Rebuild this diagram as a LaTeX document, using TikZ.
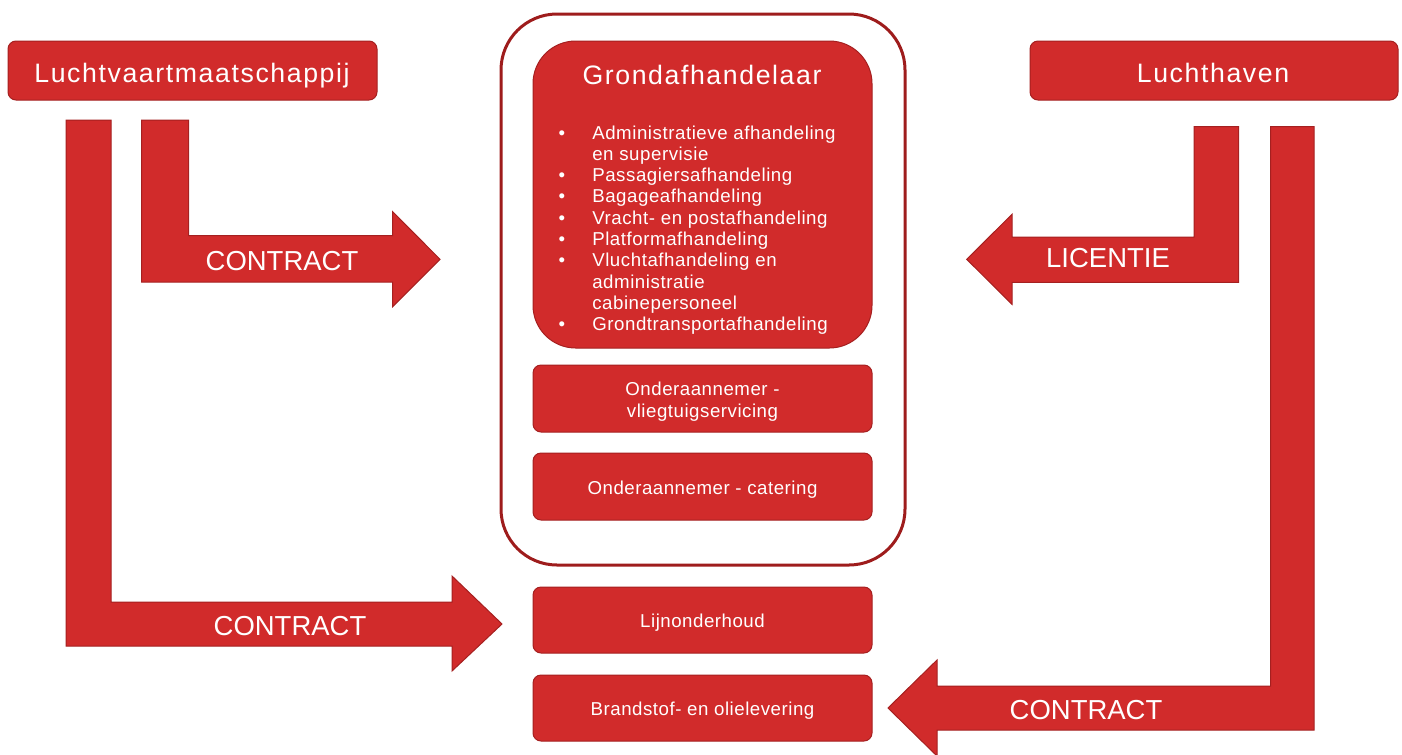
\documentclass[tikz,border=0pt]{standalone}
\usepackage{fontspec}
\setmainfont{Liberation Sans}
\newfontfamily\ttlfont[LetterSpace=6]{Liberation Sans}
\newfontfamily\lstfont[LetterSpace=3]{Liberation Sans}
\newfontfamily\subfont[LetterSpace=2.8]{Liberation Sans}
\definecolor{boxred}{RGB}{209,43,43}
\definecolor{edgered}{RGB}{165,32,32}
\definecolor{outerred}{RGB}{158,28,28}
\begin{document}
\begin{tikzpicture}[x=0.75pt,y=-0.75pt,
  redbox/.style={draw=edgered, line width=0.75pt, fill=boxred, text=white, rounded corners=6pt, inner sep=0pt, align=center},
  blockarrow/.style={draw=edgered, line width=0.75pt, fill=boxred, line join=miter},
  arrowlabel/.style={text=white, font=\fontsize{20.6}{24}\selectfont, inner sep=0pt},
  titletext/.style={text=white, font=\ttlfont\fontsize{20}{24}\selectfont, inner sep=0pt, anchor=base},
  listtext/.style={text=white, font=\lstfont\fontsize{14}{16}\selectfont, inner sep=0pt},
  subtext/.style={text=white, inner sep=0pt, align=center, font=\subfont\fontsize{14}{16.7}\selectfont}]
\useasboundingbox (0,0) rectangle (1402,754);
\clip (0,0) rectangle (1402,754);

% block arrows
\draw[blockarrow] (141.7,120) -- (188.7,120) -- (188.7,235.7) -- (392.7,235.7) -- (392.7,211.7)
  -- (440,259.3) -- (392.7,306.7) -- (392.7,282) -- (141.7,282) -- cycle;
\draw[blockarrow] (66,120) -- (111,120) -- (111,602) -- (452,602) -- (452,576)
  -- (502,624) -- (452,671) -- (452,646) -- (66,646) -- cycle;
\draw[blockarrow] (1238.7,126.7) -- (1194,126.7) -- (1194,237) -- (1012,237) -- (1012,214.3)
  -- (966.7,259.3) -- (1012,304.3) -- (1012,282.3) -- (1238.7,282.3) -- cycle;
\draw[blockarrow] (1314,126.7) -- (1270.5,126.7) -- (1270.5,686) -- (937,686) -- (937,660)
  -- (888,708) -- (937,756) -- (937,730) -- (1314,730) -- cycle;

\node[arrowlabel] (lab1) at (282,261) {CONTRACT};
\node[arrowlabel] (lab2) at (1108,258.5) {LICENTIE};
\node[arrowlabel] (lab3) at (290,626) {CONTRACT};
\node[arrowlabel] (lab4) at (1086,710.5) {CONTRACT};

% top boxes
\node[redbox, minimum width=369*0.75pt, minimum height=59*0.75pt] (airline) at (192.5,70.5) {};
\node[titletext] (airlinetxt) at (192,82) {Luchtvaartmaatschappij};
\node[redbox, minimum width=368*0.75pt, minimum height=59*0.75pt] (airport) at (1214,70.5) {};
\node[titletext] (airporttxt) at (1213,82) {Luchthaven};

% outer container
\node[draw=outerred, line width=2.25pt, rounded corners=42pt, minimum width=404*0.75pt, minimum height=551*0.75pt] (outer) at (703,289.5) {};

% ground handler
\node[redbox, rounded corners=32pt, minimum width=339*0.75pt, minimum height=307*0.75pt] (ground) at (702.5,194.5) {};
\node[titletext] (groundtxt) at (702,84) {Grondafhandelaar};
\foreach \i/\b/\t in {0/1/Administratieve afhandeling, 1/0/en supervisie, 2/1/Passagiersafhandeling,
  3/1/Bagageafhandeling, 4/1/Vracht- en postafhandeling, 5/1/Platformafhandeling,
  6/1/Vluchtafhandeling en, 7/0/administratie, 8/0/cabinepersoneel, 9/1/Grondtransportafhandeling}{
  \node[listtext, anchor=base west] (li\i) at (592,{139+\i*21.3}) {\t};
  \ifnum\b=1
    \node[listtext, anchor=base] (bu\i) at (562,{139+\i*21.3}) {•};
  \fi
}

% sub boxes
\node[redbox, minimum width=339*0.75pt, minimum height=67*0.75pt] (sub1) at (702.5,398.5) {};
\node[subtext] (sub1txt) at ([yshift=-2.25pt]sub1.center) {Onderaannemer -\\vliegtuigservicing};
\node[redbox, minimum width=339*0.75pt, minimum height=67*0.75pt] (sub2) at (702.5,486.5) {};
\node[subtext] (sub2txt) at ([yshift=-2.25pt]sub2.center) {Onderaannemer - catering};
\node[redbox, minimum width=339*0.75pt, minimum height=66*0.75pt] (line) at (702.5,620) {};
\node[subtext] (linetxt) at ([yshift=-2.25pt]line.center) {Lijnonderhoud};
\node[redbox, minimum width=339*0.75pt, minimum height=66*0.75pt] (fuel) at (702.5,708) {};
\node[subtext] (fueltxt) at ([yshift=-2.25pt]fuel.center) {Brandstof- en olielevering};
\end{tikzpicture}
\end{document}
